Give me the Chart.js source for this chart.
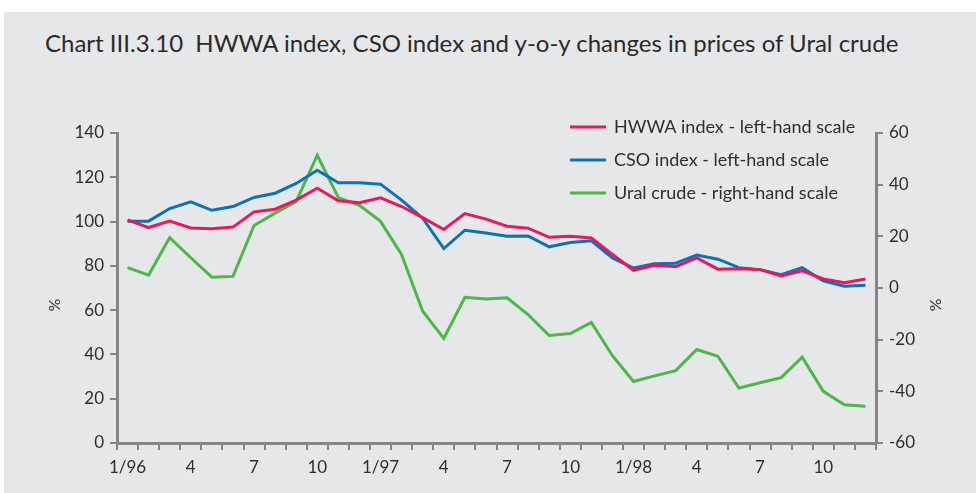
<!DOCTYPE html>
<html>
<head>
<meta charset="utf-8">
<script src="https://cdn.jsdelivr.net/npm/chart.js@4"></script>
<style>
  body { margin: 0; background: #fff; width: 976px; height: 493px; overflow: hidden; position: relative; }
  #panel { position: absolute; left: 4px; top: 12px; right: 0; bottom: 0; background: #e6e7e9; }
  #title { position: absolute; left: 45px; top: 28px; font: 24px Lato, "Open Sans", sans-serif; color: #2a2a2a; white-space: nowrap; }
  #wrap { position: absolute; left: 0; top: 0; width: 976px; height: 493px; }
</style>
</head>
<body>
<div id="panel"></div>
<div id="title">Chart III.3.10&nbsp; HWWA index, CSO index and y-o-y changes in prices of Ural crude</div>
<div id="wrap"><canvas id="graphicsChart" width="976" height="493"></canvas></div>
<script>
const months = [
  '1/96','2/96','3/96','4/96','5/96','6/96','7/96','8/96','9/96','10/96','11/96','12/96',
  '1/97','2/97','3/97','4/97','5/97','6/97','7/97','8/97','9/97','10/97','11/97','12/97',
  '1/98','2/98','3/98','4/98','5/98','6/98','7/98','8/98','9/98','10/98','11/98','12/98'
];
const tickLabels = ['1/96', '4', '7', '10', '1/97', '4', '7', '10', '1/98', '4', '7', '10'];
const hwwa = [100.8, 97.3, 100.2, 97.1, 96.8, 97.5, 104.4, 105.6, 109.7, 115.1, 109.4, 108.5,
  110.7, 106.8, 101.8, 96.4, 103.6, 101.1, 97.9, 97.0, 92.9, 93.4, 92.6, 85.2,
  78.0, 80.3, 79.6, 83.6, 78.5, 78.7, 78.3, 75.4, 77.8, 74.1, 72.4, 74.1];
const cso = [100.2, 100.2, 105.9, 108.9, 105.1, 106.8, 110.9, 112.8, 117.2, 123.2, 117.5, 117.5,
  116.9, 109.7, 101.5, 87.8, 96.1, 94.8, 93.4, 93.5, 88.6, 90.5, 91.3, 83.6,
  79.0, 81.0, 81.2, 84.9, 83.0, 79.2, 78.3, 76.0, 79.2, 73.2, 70.8, 71.2];
const ural = [7.9, 5.0, 19.5, 11.7, 4.2, 4.5, 24.2, 29.0, 33.5, 51.4, 35.0, 32.0,
  25.8, 12.9, -9.0, -19.5, -3.6, -4.3, -3.8, -10.3, -18.4, -17.6, -13.3, -26.2,
  -36.2, -34.0, -32.0, -23.8, -26.4, -38.7, -36.7, -34.7, -26.8, -40.0, -45.2, -45.8];

const FONT = 'Lato, "Open Sans", sans-serif';
const TXT = '#2e2e2e';
const AXIS = '#858585';

// legend inside the plot (top right) and the two "%" axis captions
const extras = {
  id: 'extras',
  afterDraw(chart) {
    const ctx = chart.ctx;
    ctx.save();
    ctx.font = '18px ' + FONT;
    ctx.fillStyle = TXT;
    ctx.textBaseline = 'middle';
    chart.data.datasets.forEach((ds, i) => {
      const y = 127 + i * 33;
      ctx.strokeStyle = ds.borderColor;
      ctx.lineWidth = 3;
      ctx.beginPath();
      ctx.moveTo(570, y);
      ctx.lineTo(606, y);
      ctx.stroke();
      ctx.fillText(ds.label, 614, y);
    });
    ctx.font = '16px ' + FONT;
    ctx.textAlign = 'center';
    [[55, -Math.PI / 2], [935, Math.PI / 2]].forEach(([x, rot]) => {
      ctx.save();
      ctx.translate(x, 305);
      ctx.rotate(rot);
      ctx.fillText('%', 0, 0);
      ctx.restore();
    });
    ctx.restore();
  }
};

new Chart(document.getElementById('graphicsChart'), {
  type: 'line',
  data: {
    labels: months,
    datasets: [
      { label: 'HWWA index - left-hand scale', data: hwwa, borderColor: '#e8185c', yAxisID: 'y' },
      { label: 'CSO index - left-hand scale', data: cso, borderColor: '#0b72b9', yAxisID: 'y' },
      { label: 'Ural crude - right-hand scale', data: ural, borderColor: '#4cb848', yAxisID: 'y1' }
    ]
  },
  options: {
    responsive: false,
    animation: false,
    devicePixelRatio: 1,
    layout: { padding: { top: 133, left: 0, right: 0, bottom: 0 } },
    elements: {
      line: { borderWidth: 3, tension: 0 },
      point: { radius: 0 }
    },
    plugins: {
      legend: { display: false },
      tooltip: { enabled: false }
    },
    scales: {
      x: {
        offset: true,
        grid: { offset: true, drawOnChartArea: false, color: AXIS, lineWidth: 2, tickLength: 7 },
        border: { color: AXIS, width: 3 },
        ticks: {
          autoSkip: false, maxRotation: 0, color: TXT, font: { family: FONT, size: 17 }, padding: 7,
          callback: (v, i) => (i % 3 === 0 ? tickLabels[i / 3] : '')
        },
        afterFit: s => { s.height = 50; }
      },
      y: {
        position: 'left',
        min: 0, max: 140,
        ticks: { stepSize: 20, color: TXT, font: { family: FONT, size: 17 }, padding: 6 },
        grid: { drawOnChartArea: false, color: AXIS, lineWidth: 2, tickLength: 7 },
        border: { color: AXIS, width: 3 },
        afterFit: s => { s.width = 117; }
      },
      y1: {
        position: 'right',
        min: -60, max: 60,
        ticks: { stepSize: 20, color: TXT, font: { family: FONT, size: 17 }, padding: 6 },
        grid: { drawOnChartArea: false, color: AXIS, lineWidth: 2, tickLength: 7 },
        border: { color: AXIS, width: 3 },
        afterFit: s => { s.width = 100; }
      }
    }
  },
  plugins: [extras]
});
</script>
</body>
</html>
